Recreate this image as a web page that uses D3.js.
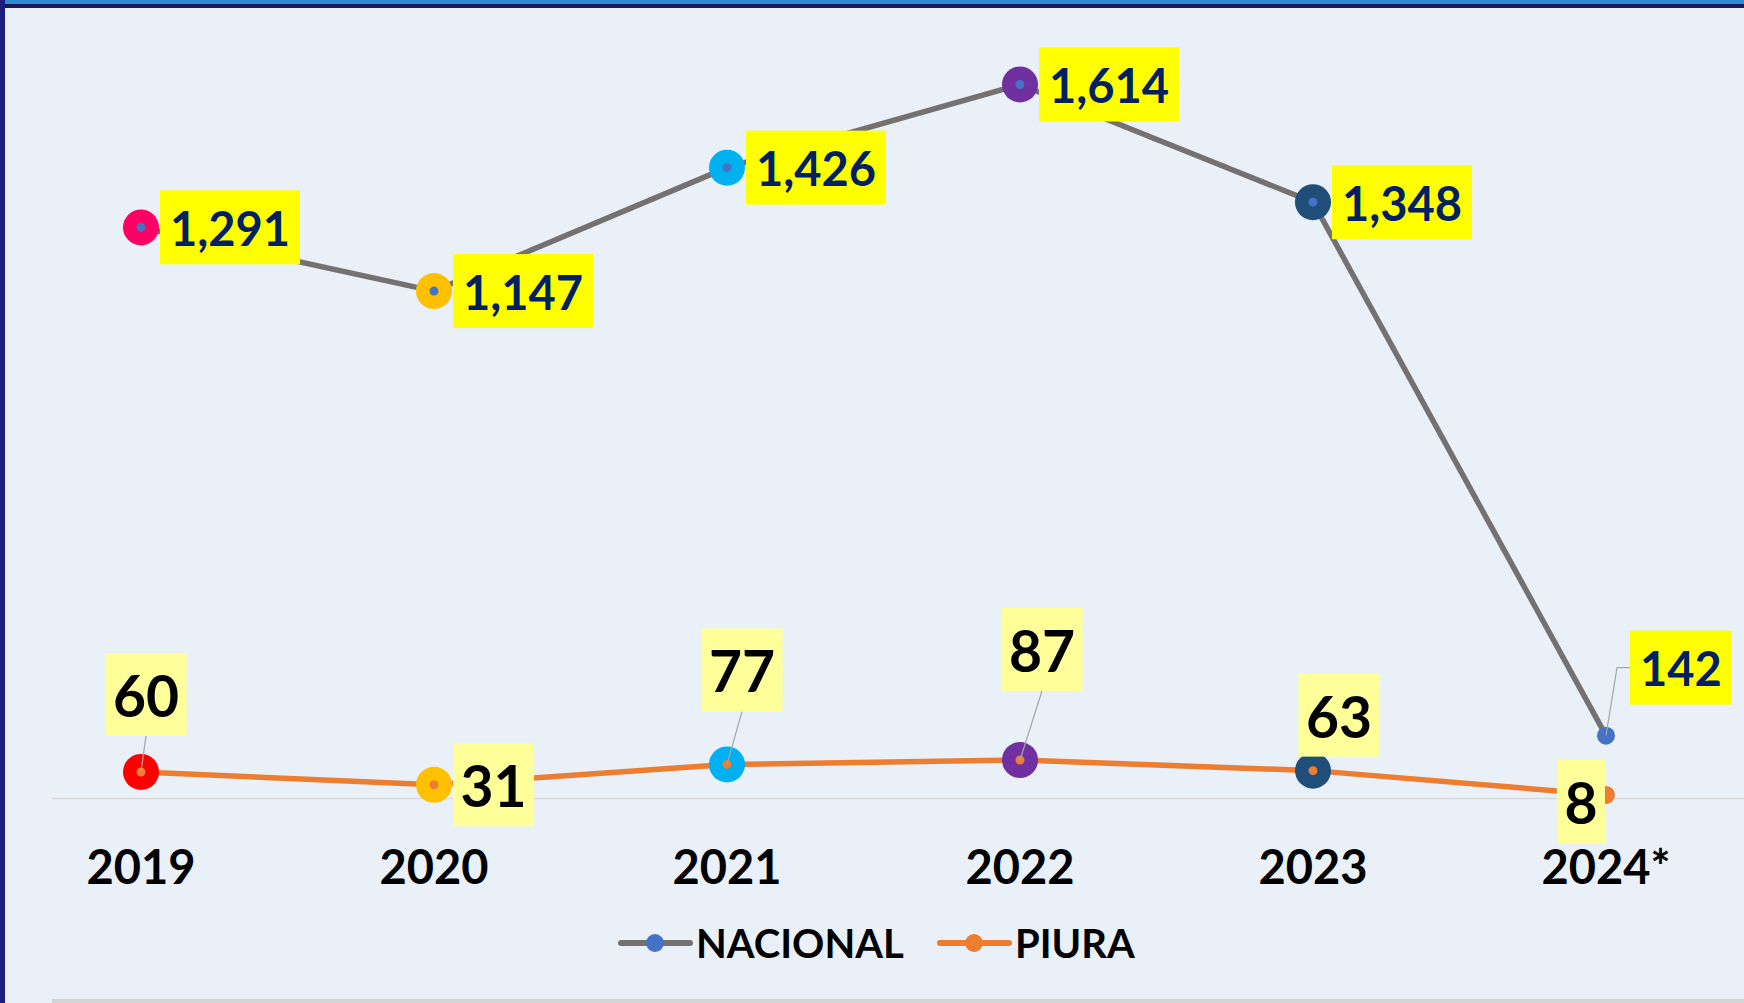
<!DOCTYPE html>
<html>
<head>
<meta charset="utf-8">
<script src="https://cdn.jsdelivr.net/npm/d3@7"></script>
<style>
  body { margin: 0; background: #ffffff; }
  svg { display: block; }
  text { font-family: Lato, "Open Sans", sans-serif; font-weight: 700; }
</style>
</head>
<body>
<div id="chart"></div>
<script>
// chart data
const years = ['2019', '2020', '2021', '2022', '2023', '2024*'];
const nacional = [1291, 1147, 1426, 1614, 1348, 142];
const piura = [60, 31, 77, 87, 63, 8];

// per-point marker fills (null = plain series marker)
const nacionalColors = ['#FF0066', '#FFC000', '#00B0F0', '#7030A0', '#1F4E79', null];
const piuraColors = ['#FF0000', '#FFC000', '#00B0F0', '#7030A0', '#1F4E79', null];

// label placement: anchor on the box (fraction of width/height) + offset from the point, leader type
const nacionalLabelPos = [
  { anchor: [0, 0.5], off: [19, 0] },
  { anchor: [0, 0.5], off: [19, 0] },
  { anchor: [0, 0.5], off: [19, 0] },
  { anchor: [0, 0.5], off: [19, 0] },
  { anchor: [0, 0.5], off: [19, 0] },
  { anchor: [0, 0.5], off: [24, -68], leader: 'elbow' }
];
const piuraLabelPos = [
  { anchor: [0.5, 1], off: [5, -36], leader: 'straight' },
  { anchor: [0, 0.5], off: [19, 0] },
  { anchor: [0.5, 1], off: [15, -53], leader: 'straight' },
  { anchor: [0.5, 1], off: [22, -69], leader: 'straight' },
  { anchor: [0.5, 1], off: [26, -14] },
  { anchor: [1, 0], off: [-1, -35] }
];

const width = 1744, height = 1003;
const fmt = d3.format(',');

const svg = d3.select('#chart').append('svg')
  .attr('width', width)
  .attr('height', height);

// background + frame
svg.append('rect').attr('width', width).attr('height', height).attr('fill', '#E9F0F8');
svg.append('rect').attr('x', 52).attr('y', 999).attr('width', width - 52).attr('height', 4).attr('fill', '#D4D4D4');
svg.append('rect').attr('x', 0).attr('y', 0).attr('width', width).attr('height', 4).attr('fill', '#2F8AD0');
svg.append('rect').attr('x', 0).attr('y', 4).attr('width', width).attr('height', 4).attr('fill', '#1C1660');
svg.append('rect').attr('x', 0).attr('y', 0).attr('width', 5).attr('height', height).attr('fill', '#1E1E80');

const x = d3.scalePoint().domain(years).range([141, 1606]);
const y = d3.scaleLinear().domain([0, 1800]).range([798.5, 2.2]);

// baseline
svg.append('line')
  .attr('x1', 52).attr('x2', width)
  .attr('y1', y(0)).attr('y2', y(0))
  .attr('stroke', '#D9D9D9').attr('stroke-width', 1.5);

// x axis labels
svg.append('g')
  .selectAll('text')
  .data(years)
  .join('text')
  .attr('x', d => x(d))
  .attr('y', 884)
  .attr('text-anchor', 'middle')
  .attr('font-size', 47)
  .attr('fill', '#000000')
  .text(d => d);

const series = [
  { name: 'NACIONAL', values: nacional, colors: nacionalColors, pos: nacionalLabelPos,
    line: '#767171', dot: '#4472C4', box: '#FFFF00', ink: '#002060', fontSize: 47, boxH: 74, base: 18.5, pad: 20 },
  { name: 'PIURA', values: piura, colors: piuraColors, pos: piuraLabelPos,
    line: '#ED7D31', dot: '#ED7D31', box: '#FFFF99', ink: '#000000', fontSize: 57, boxH: 83, base: 22.5, pad: 15 }
];

const line = d3.line().x((d, i) => x(years[i])).y(d => y(d));

// lines
series.forEach(s => {
  svg.append('path')
    .attr('d', line(s.values))
    .attr('fill', 'none')
    .attr('stroke', s.line)
    .attr('stroke-width', 5.5)
    .attr('stroke-linejoin', 'round');
});

// markers
series.forEach(s => {
  const g = svg.append('g');
  s.values.forEach((v, i) => {
    const cx = x(years[i]), cy = y(v);
    if (s.colors[i]) {
      g.append('circle').attr('cx', cx).attr('cy', cy).attr('r', 18).attr('fill', s.colors[i]);
      g.append('circle').attr('cx', cx).attr('cy', cy).attr('r', 4.5).attr('fill', s.dot);
    } else {
      g.append('circle').attr('cx', cx).attr('cy', cy).attr('r', 9).attr('fill', s.dot);
    }
  });
});

// data labels
series.forEach(s => {
  const g = svg.append('g');
  s.values.forEach((v, i) => {
    const p = s.pos[i];
    const cx = x(years[i]), cy = y(v);
    const t = g.append('text')
      .attr('font-size', s.fontSize)
      .attr('fill', s.ink)
      .attr('text-anchor', 'middle')
      .text(fmt(v));
    const w = t.node().getBBox().width + s.pad;
    const h = s.boxH;
    const ax = cx + p.off[0], ay = cy + p.off[1];
    const bx = ax - p.anchor[0] * w, by = ay - p.anchor[1] * h;

    if (p.leader === 'straight') {
      g.insert('line', 'text')
        .attr('x1', cx).attr('y1', cy).attr('x2', ax).attr('y2', ay)
        .attr('stroke', '#A6A6A6').attr('stroke-width', 1.2);
    } else if (p.leader === 'elbow') {
      g.insert('polyline', 'text')
        .attr('points', [[cx, cy], [ax - 13, ay], [ax, ay]].map(q => q.join(',')).join(' '))
        .attr('fill', 'none')
        .attr('stroke', '#A6A6A6').attr('stroke-width', 1.2);
    }
    g.insert('rect', 'text:last-child')
      .attr('x', bx).attr('y', by)
      .attr('width', w).attr('height', h)
      .attr('fill', s.box);
    t.attr('x', bx + w / 2).attr('y', by + h / 2 + s.base);
  });
});

// legend
const legend = [
  { name: 'NACIONAL', line: '#767171', dot: '#4472C4', x0: 621 },
  { name: 'PIURA', line: '#ED7D31', dot: '#ED7D31', x0: 940 }
];
const lg = svg.append('g');
legend.forEach(l => {
  lg.append('line')
    .attr('x1', l.x0).attr('x2', l.x0 + 69)
    .attr('y1', 943).attr('y2', 943)
    .attr('stroke', l.line).attr('stroke-width', 6).attr('stroke-linecap', 'round');
  lg.append('circle').attr('cx', l.x0 + 34).attr('cy', 943).attr('r', 9).attr('fill', l.dot);
  lg.append('text')
    .attr('x', l.x0 + 75).attr('y', 958)
    .attr('font-size', 40)
    .attr('fill', '#000000')
    .text(l.name);
});
</script>
</body>
</html>
